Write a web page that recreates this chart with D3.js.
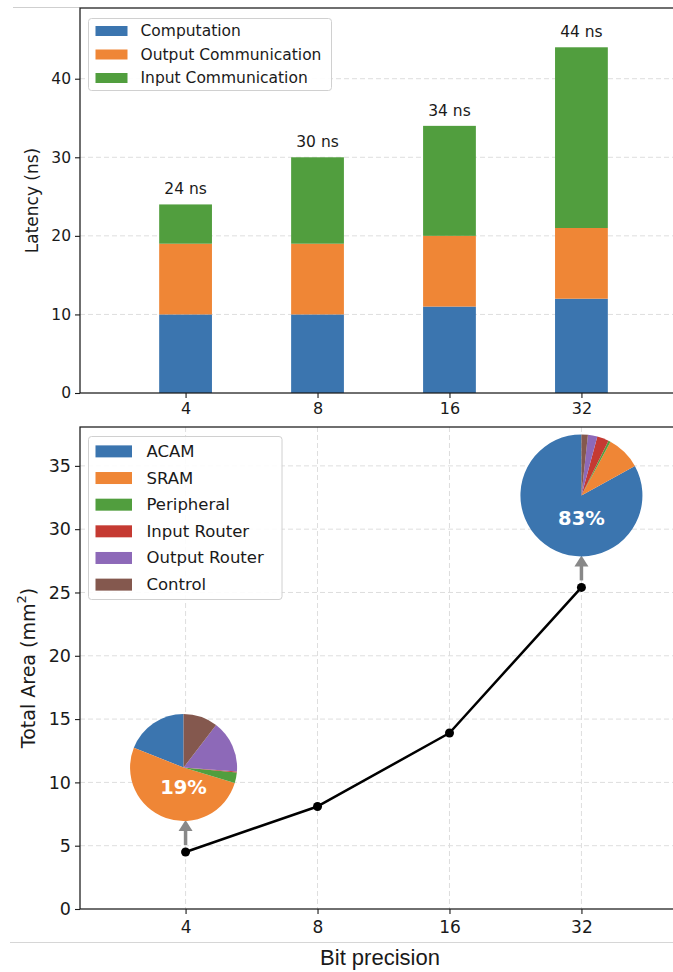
<!DOCTYPE html>
<html>
<head>
<meta charset="utf-8">
<script src="https://cdn.jsdelivr.net/npm/d3@7"></script>
<style>
  html, body { margin: 0; padding: 0; background: #fff; }
  svg { display: block; font-family: "DejaVu Sans", sans-serif; }
</style>
</head>
<body>
<svg id="chart" width="673" height="972"></svg>
<script>
// Bit-precision categories shared by both panels
const precisions = ["4", "8", "16", "32"];

// Latency breakdown (ns) per precision
const computation = [10, 10, 11, 12];
const outputComm = [9, 9, 9, 9];
const inputComm = [5, 11, 14, 23];
const latencySeries = ["Computation", "Output Communication", "Input Communication"];
const latencyTicks = [0, 10, 20, 30, 40];

// Total area (mm^2) per precision
const totalArea = [4.5, 8.1, 13.9, 25.4];
const areaTicks = [0, 5, 10, 15, 20, 25, 30, 35];

// Area breakdown (%) shown as pies at 4-bit and 32-bit
const areaParts = ["ACAM", "SRAM", "Peripheral", "Input Router", "Output Router", "Control"];
const pieAt4 = [19.0, 51.3, 3.2, 0.3, 15.8, 10.4];
const pieAt32 = [83.0, 9.1, 0.6, 3.1, 2.5, 1.7];

const latencyColors = ["#3b75af", "#ef8636", "#519e3e"];
const partColors = ["#3b75af", "#ef8636", "#519e3e", "#c53a32", "#8d69b8", "#84584e"];

const svg = d3.select("#chart");
const ink = "#1a1a1a";
const gridColor = "#dedede";

// shared horizontal layout: category index -> pixel
const left = 80, right = 687;
const x = d3.scaleLinear().domain([-0.8, 3.8]).range([left, right]);
const barW = x(0.4) - x(0);

// ---------- faint frame lines ----------
svg.append("line").attr("x1", 13).attr("x2", left).attr("y1", 7.5).attr("y2", 7.5)
  .attr("stroke", "#cfcfcf").attr("stroke-width", 1);
svg.append("line").attr("x1", 10).attr("x2", 673).attr("y1", 942.5).attr("y2", 942.5)
  .attr("stroke", "#d6d6d6").attr("stroke-width", 1);

// ---------- top panel: stacked latency bars ----------
const topT = 8, topB = 393;
const yTop = d3.scaleLinear().domain([0, 49]).range([topB, topT]);
const gTop = svg.append("g");

// horizontal grid
gTop.selectAll(".gy").data(latencyTicks.filter(d => d > 0)).join("line")
  .attr("x1", left).attr("x2", right)
  .attr("y1", d => yTop(d)).attr("y2", d => yTop(d))
  .attr("stroke", gridColor).attr("stroke-width", 1).attr("stroke-dasharray", "5,3");

const stackRows = precisions.map((p, i) => ({
  p, i,
  "Computation": computation[i],
  "Output Communication": outputComm[i],
  "Input Communication": inputComm[i]
}));
const stacked = d3.stack().keys(latencySeries)(stackRows);
stacked.forEach((layer, k) => {
  gTop.selectAll(".bar" + k).data(layer).join("rect")
    .attr("x", d => x(d.data.i) - barW / 2)
    .attr("width", barW)
    .attr("y", d => yTop(d[1]))
    .attr("height", d => yTop(d[0]) - yTop(d[1]))
    .attr("fill", latencyColors[k]);
});

// totals above bars
gTop.selectAll(".tot").data(stackRows).join("text")
  .attr("x", d => x(d.i))
  .attr("y", d => yTop(computation[d.i] + outputComm[d.i] + inputComm[d.i]) - 10)
  .attr("text-anchor", "middle").attr("font-size", 15.5).attr("fill", ink)
  .text(d => (computation[d.i] + outputComm[d.i] + inputComm[d.i]) + " ns");

// axes
const yAxisTop = d3.axisLeft(yTop).tickValues(latencyTicks).tickSize(5).tickPadding(4);
gTop.append("g").attr("transform", `translate(${left},0)`).call(yAxisTop)
  .call(g => g.select(".domain").remove())
  .call(g => g.selectAll("text").attr("font-size", 15.5).attr("fill", ink).attr("font-family", "DejaVu Sans"))
  .call(g => g.selectAll("line").attr("stroke", ink).attr("stroke-width", 1.1));
const xAxisTop = d3.axisBottom(x).tickValues([0, 1, 2, 3]).tickFormat(i => precisions[i]).tickSize(5).tickPadding(5);
gTop.append("g").attr("transform", `translate(0,${topB})`).call(xAxisTop)
  .call(g => g.select(".domain").remove())
  .call(g => g.selectAll("text").attr("font-size", 16).attr("fill", ink).attr("font-family", "DejaVu Sans"))
  .call(g => g.selectAll("line").attr("stroke", ink).attr("stroke-width", 1.1));
// spines
gTop.append("rect").attr("x", left).attr("y", topT).attr("width", right - left).attr("height", topB - topT)
  .attr("fill", "none").attr("stroke", ink).attr("stroke-width", 1.25);

gTop.append("text")
  .attr("transform", `translate(32,${(topT + topB) / 2}) rotate(-90)`)
  .attr("text-anchor", "middle").attr("dominant-baseline", "central")
  .attr("font-size", 17).attr("fill", ink).text("Latency (ns)");

// legend
function legend(g, x0, y0, w, h, names, colors, rowH, patchW, patchH, textX, fs) {
  g.append("rect").attr("x", x0).attr("y", y0).attr("width", w).attr("height", h)
    .attr("rx", 3).attr("fill", "#fff").attr("fill-opacity", 0.9)
    .attr("stroke", "#d0d0d0").attr("stroke-width", 1);
  const rows = g.selectAll(".lg").data(names).join("g")
    .attr("transform", (d, i) => `translate(${x0},${y0 + rowH * (i + 0.5) + (h - rowH * names.length) / 2})`);
  rows.append("rect").attr("x", 7).attr("y", -patchH / 2).attr("width", patchW).attr("height", patchH)
    .attr("fill", (d, i) => colors[i]);
  rows.append("text").attr("x", textX).attr("dominant-baseline", "central")
    .attr("font-size", fs).attr("fill", ink).text(d => d);
}
legend(gTop.append("g"), 88.5, 18.5, 243, 72, latencySeries, latencyColors, 23.5, 32, 10, 52, 15.5);

// ---------- bottom panel: total area line with pies ----------
const botT = 427, botB = 909;
const yBot = d3.scaleLinear().domain([0, 38.07]).range([botB, botT]);
const gBot = svg.append("g");

gBot.selectAll(".gy").data(areaTicks.filter(d => d > 0)).join("line")
  .attr("x1", left).attr("x2", right)
  .attr("y1", d => yBot(d)).attr("y2", d => yBot(d))
  .attr("stroke", gridColor).attr("stroke-width", 1).attr("stroke-dasharray", "5,3");
gBot.selectAll(".gx").data([0, 1, 2, 3]).join("line")
  .attr("x1", d => x(d)).attr("x2", d => x(d))
  .attr("y1", botT).attr("y2", botB)
  .attr("stroke", gridColor).attr("stroke-width", 1).attr("stroke-dasharray", "5,3");

const pts = totalArea.map((v, i) => [x(i), yBot(v)]);
gBot.append("path").attr("d", d3.line()(pts))
  .attr("fill", "none").attr("stroke", "#000").attr("stroke-width", 2.5).attr("stroke-linejoin", "round");
gBot.selectAll(".pt").data(pts).join("circle")
  .attr("cx", d => d[0]).attr("cy", d => d[1]).attr("r", 4.5).attr("fill", "#000");

// pies anchored above selected points, with an arrow from point to pie
const pieGen = d3.pie().sort(null).startAngle(0).endAngle(-2 * Math.PI);
function drawPie(idx, values, r, dx) {
  const px = x(idx), py = yBot(totalArea[idx]);
  const gap = 31;
  const cy = py - gap - r;
  // arrow
  const tipY = py - gap - 1, baseY = py - 7, headLen = 11, headW = 7;
  gBot.append("line").attr("x1", px).attr("x2", px).attr("y1", baseY).attr("y2", tipY + headLen - 1)
    .attr("stroke", "#888").attr("stroke-width", 3.5);
  gBot.append("path")
    .attr("d", `M${px},${tipY} L${px + headW},${tipY + headLen} L${px - headW},${tipY + headLen} Z`)
    .attr("fill", "#888");
  const arc = d3.arc().innerRadius(0).outerRadius(r);
  const gp = gBot.append("g").attr("transform", `translate(${px + dx},${cy})`);
  gp.selectAll("path").data(pieGen(values)).join("path")
    .attr("d", arc).attr("fill", (d, i) => partColors[i]);
  gp.append("text").attr("x", 0).attr("y", r * 0.38)
    .attr("text-anchor", "middle").attr("dominant-baseline", "central")
    .attr("font-size", 19.5).attr("font-weight", "bold").attr("fill", "#fff")
    .text(Math.round(values[0]) + "%");
}
drawPie(0, pieAt4, 53.5, -2);
drawPie(3, pieAt32, 61, 0);

const yAxisBot = d3.axisLeft(yBot).tickValues(areaTicks).tickSize(5).tickPadding(4);
gBot.append("g").attr("transform", `translate(${left},0)`).call(yAxisBot)
  .call(g => g.select(".domain").remove())
  .call(g => g.selectAll("text").attr("font-size", 17.5).attr("fill", ink).attr("font-family", "DejaVu Sans"))
  .call(g => g.selectAll("line").attr("stroke", ink).attr("stroke-width", 1.1));
const xAxisBot = d3.axisBottom(x).tickValues([0, 1, 2, 3]).tickFormat(i => precisions[i]).tickSize(5).tickPadding(7);
gBot.append("g").attr("transform", `translate(0,${botB})`).call(xAxisBot)
  .call(g => g.select(".domain").remove())
  .call(g => g.selectAll("text").attr("font-size", 17).attr("fill", ink).attr("font-family", "DejaVu Sans"))
  .call(g => g.selectAll("line").attr("stroke", ink).attr("stroke-width", 1.1));
gBot.append("rect").attr("x", left).attr("y", botT).attr("width", right - left).attr("height", botB - botT)
  .attr("fill", "none").attr("stroke", ink).attr("stroke-width", 1.25);

const yl = gBot.append("text")
  .attr("transform", `translate(28,${(botT + botB) / 2}) rotate(-90)`)
  .attr("text-anchor", "middle").attr("dominant-baseline", "central")
  .attr("font-size", 19).attr("fill", ink);
yl.append("tspan").text("Total Area (mm");
yl.append("tspan").attr("font-size", 13).attr("dy", -7).text("2");
yl.append("tspan").attr("dy", 7).text(")");

svg.append("text").attr("x", 380).attr("y", 965)
  .attr("text-anchor", "middle").attr("font-family", "Liberation Sans, Arial, sans-serif")
  .attr("font-size", 22).attr("fill", ink).text("Bit precision");

legend(gBot.append("g"), 88.5, 436.5, 193.5, 163, areaParts, partColors, 26.65, 36.5, 12, 58, 16.5);
</script>
</body>
</html>
